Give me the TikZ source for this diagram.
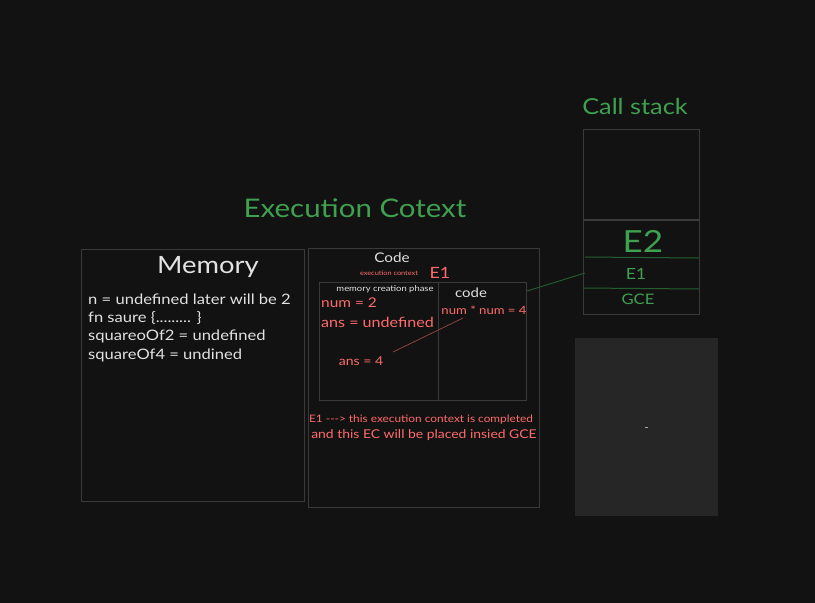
\documentclass[tikz,border=0pt]{standalone}
\usepackage{fontspec}
\setmainfont{Lato}[FakeStretch=1.15]
\begin{document}
\begin{tikzpicture}[x=1pt,y=-1pt,
  box/.style={draw=boxgray,line width=1.1pt},
  wt/.style={text=txtwhite,inner sep=0pt},
  rt/.style={text=txtred,inner sep=0pt},
  gt/.style={text=txtgreen,inner sep=0pt}]
\definecolor{bg}{HTML}{121212}
\definecolor{boxgray}{HTML}{3A3A3A}
\definecolor{txtwhite}{HTML}{E2E2E2}
\definecolor{txtred}{HTML}{FF6B6B}
\definecolor{txtgreen}{HTML}{3FA04F}
\definecolor{lnred}{HTML}{8A4444}
\definecolor{lngreen}{HTML}{245F30}
\definecolor{panel}{HTML}{262626}
\fill[bg] (0,0) rectangle (815,603);
\useasboundingbox (0,0) rectangle (815,603);

% titles
\node[gt,font=\fontsize{25.6}{28}\selectfont] (ectitle) at (355,208) {Execution Cotext};
\node[gt,font=\fontsize{22}{25}\selectfont] (cstitle) at (635,106) {Call stack};

% memory box
\node[box,minimum width=223pt,minimum height=252pt,anchor=north west] (mem) at (81,249) {};
\node[wt,font=\fontsize{23.8}{28}\selectfont] (memtitle) at (208,267) {Memory};
\node[wt,anchor=west,font=\fontsize{14.4}{17}\selectfont] (m1) at (88,299) {n = undefined later will be 2};
\node[wt,anchor=west,font=\fontsize{14.4}{17}\selectfont] (m2) at (88,318) {fn saure \{......... \}};
\node[wt,anchor=west,font=\fontsize{14.4}{17}\selectfont] (m3) at (88,336) {squareoOf2 = undefined};
\node[wt,anchor=west,font=\fontsize{14.4}{17}\selectfont] (m4) at (88,355) {squareOf4 = undined};

% code box
\node[box,minimum width=231pt,minimum height=259pt,anchor=north west] (code) at (308,248) {};
\node[wt,font=\fontsize{13.3}{16}\selectfont] (codetitle) at (392,258) {Code};
\node[rt,font=\fontsize{6.4}{7}\selectfont] (ectx) at (389,273) {execution context};
\node[rt,font=\fontsize{15.5}{17}\selectfont] (e1lab) at (440,273) {E1};

% inner box
\node[box,minimum width=207pt,minimum height=118pt,anchor=north west] (inner) at (319,282) {};
\draw[boxgray,line width=0.9pt] (inner.north west) ++(119,0) coordinate (dv1) -- ++(0,118) coordinate (dv2);
\node[wt,font=\fontsize{8.2}{9}\selectfont] (mcp) at (385,289) {memory creation phase};
\node[wt,font=\fontsize{13}{15}\selectfont] (innercode) at (471,293) {code};
\node[rt,anchor=west,font=\fontsize{13.4}{16}\selectfont] (num2) at (321,303) {num = 2};
\node[rt,anchor=west,font=\fontsize{14}{16}\selectfont] (ansu) at (321,322) {ans = undefined};
\node[rt,font=\fontsize{11.4}{13}\selectfont] (nn) at (484,310) {num * num = 4};
\node[rt,font=\fontsize{12.2}{14}\selectfont] (ans4) at (361,361) {ans = 4};
\coordinate (la) at (463,318);
\coordinate (lb) at (393,352);
\draw[lnred,line width=0.8pt] (la) -- (lb);

\node[rt,font=\fontsize{10.3}{12}\selectfont] (note1) at (421,420) {E1 -\kern0pt-\kern0pt-> this execution context is completed};
\node[rt,font=\fontsize{12.1}{14}\selectfont] (note2) at (424,435) {and this EC will be placed insied GCE};

% call stack
\node[box,minimum width=116pt,minimum height=185pt,anchor=north west] (stack) at (583,129) {};
\draw[boxgray,line width=1.1pt] (583,220) coordinate (s1) -- (699,220) coordinate (s2);
\draw[lngreen,line width=1pt] (585,257) coordinate (g1) -- (699,258) coordinate (g2);
\draw[lngreen,line width=1pt] (583,288) coordinate (g3) -- (699,289) coordinate (g4);
\node[gt,font=\fontsize{30.5}{33}\selectfont] (e2) at (643,241) {E2};
\node[gt,font=\fontsize{15.4}{17}\selectfont] (se1) at (636,274) {E1};
\node[gt,font=\fontsize{14.5}{16}\selectfont] (sgce) at (638,299) {GCE};
\coordinate (c1) at (527,291);
\coordinate (c2) at (585,273);
\draw[lngreen,line width=0.9pt] (c1) -- (c2);

% gray panel
\node[fill=panel,draw=none,minimum width=143pt,minimum height=178pt,anchor=north west] (panelbox) at (575,338) {};
\fill[gray!70] (645,426.5) rectangle (648,428);
\end{tikzpicture}
\end{document}
